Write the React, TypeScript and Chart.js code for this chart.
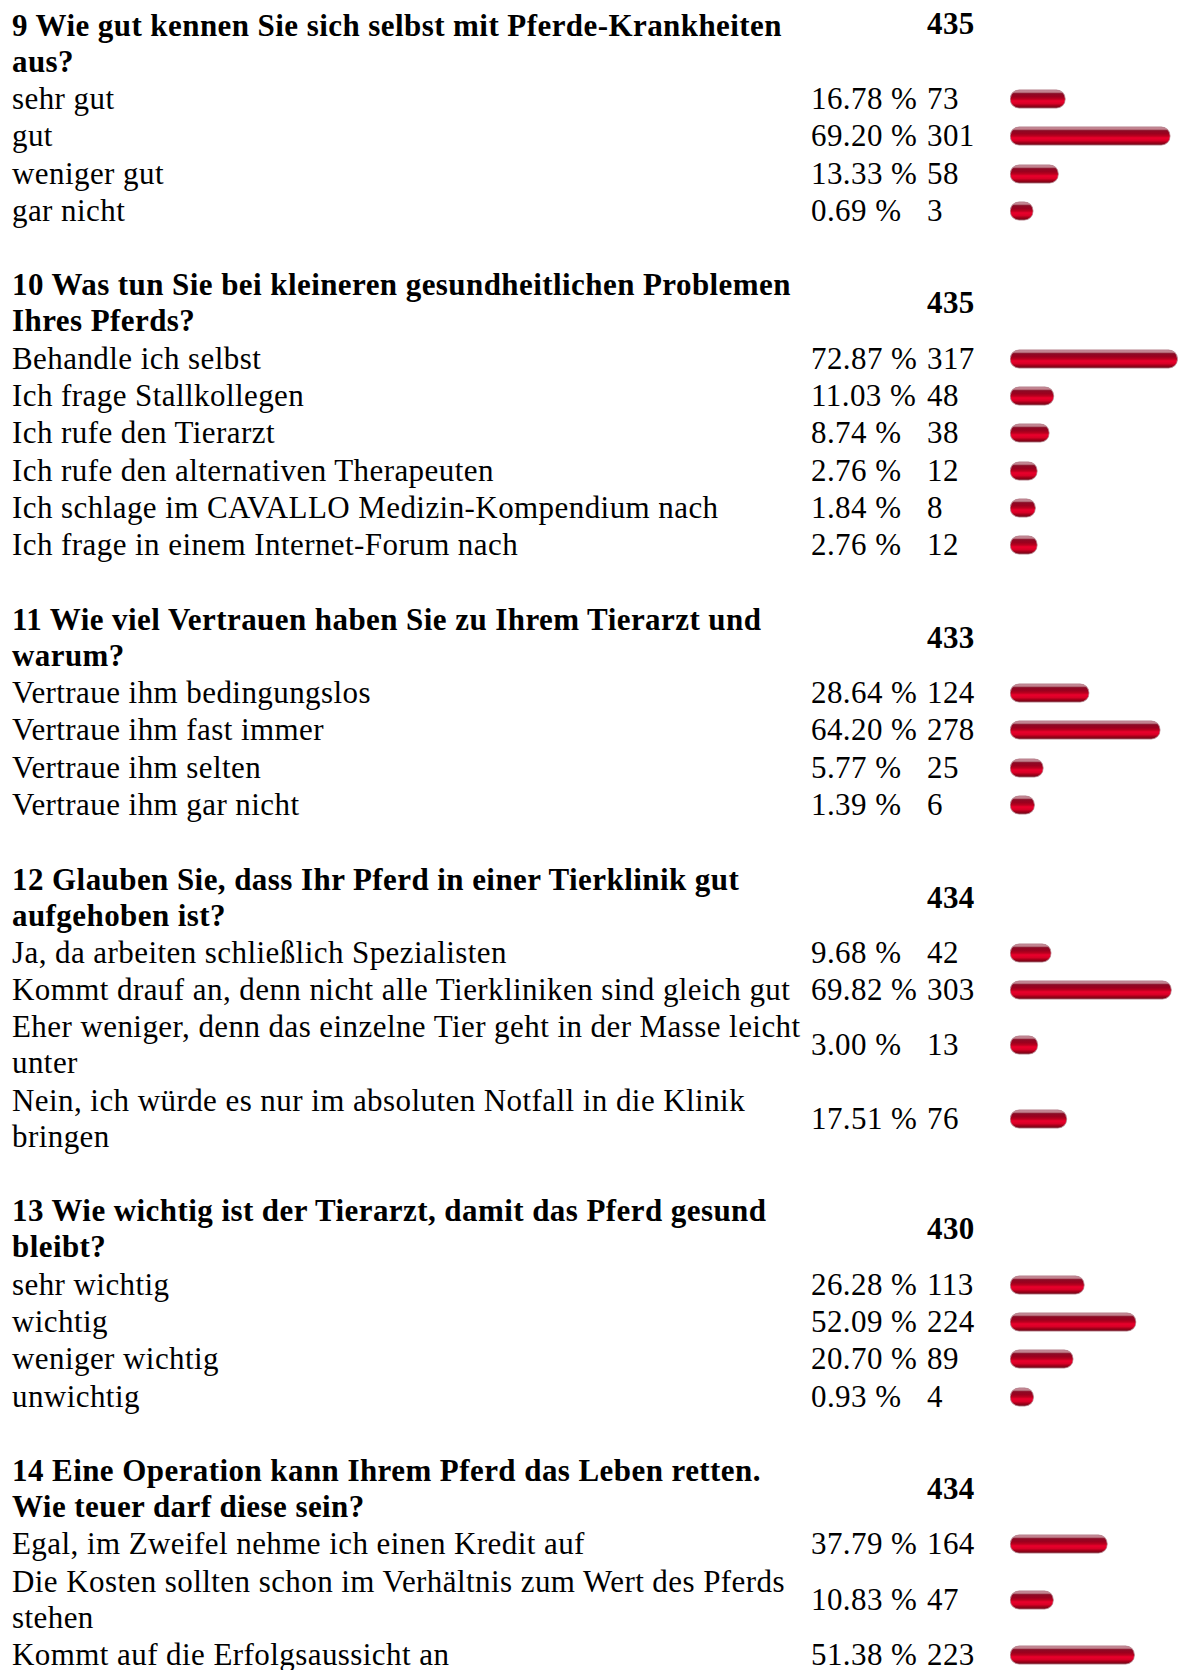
import React, { useEffect, useRef } from "react";
import { Chart, registerables } from "chart.js";

Chart.register(...registerables);

// ---------- data ----------
const q9Title = "9 Wie gut kennen Sie sich selbst mit Pferde-Krankheiten\naus?";
const q9Total = 435;
const q9Labels = ["sehr gut", "gut", "weniger gut", "gar nicht"];
const q9Percents = [16.78, 69.2, 13.33, 0.69];
const q9Counts = [73, 301, 58, 3];

const q10Title = "10 Was tun Sie bei kleineren gesundheitlichen Problemen\nIhres Pferds?";
const q10Total = 435;
const q10Labels = [
  "Behandle ich selbst",
  "Ich frage Stallkollegen",
  "Ich rufe den Tierarzt",
  "Ich rufe den alternativen Therapeuten",
  "Ich schlage im CAVALLO Medizin-Kompendium nach",
  "Ich frage in einem Internet-Forum nach",
];
const q10Percents = [72.87, 11.03, 8.74, 2.76, 1.84, 2.76];
const q10Counts = [317, 48, 38, 12, 8, 12];

const q11Title = "11 Wie viel Vertrauen haben Sie zu Ihrem Tierarzt und\nwarum?";
const q11Total = 433;
const q11Labels = [
  "Vertraue ihm bedingungslos",
  "Vertraue ihm fast immer",
  "Vertraue ihm selten",
  "Vertraue ihm gar nicht",
];
const q11Percents = [28.64, 64.2, 5.77, 1.39];
const q11Counts = [124, 278, 25, 6];

const q12Title = "12 Glauben Sie, dass Ihr Pferd in einer Tierklinik gut\naufgehoben ist?";
const q12Total = 434;
const q12Labels = [
  "Ja, da arbeiten schließlich Spezialisten",
  "Kommt drauf an, denn nicht alle Tierkliniken sind gleich gut",
  "Eher weniger, denn das einzelne Tier geht in der Masse leicht\nunter",
  "Nein, ich würde es nur im absoluten Notfall in die Klinik\nbringen",
];
const q12Percents = [9.68, 69.82, 3.0, 17.51];
const q12Counts = [42, 303, 13, 76];

const q13Title = "13 Wie wichtig ist der Tierarzt, damit das Pferd gesund\nbleibt?";
const q13Total = 430;
const q13Labels = ["sehr wichtig", "wichtig", "weniger wichtig", "unwichtig"];
const q13Percents = [26.28, 52.09, 20.7, 0.93];
const q13Counts = [113, 224, 89, 4];

const q14Title = "14 Eine Operation kann Ihrem Pferd das Leben retten.\nWie teuer darf diese sein?";
const q14Total = 434;
const q14Labels = [
  "Egal, im Zweifel nehme ich einen Kredit auf",
  "Die Kosten sollten schon im Verhältnis zum Wert des Pferds\nstehen",
  "Kommt auf die Erfolgsaussicht an",
];
const q14Percents = [37.79, 10.83, 51.38];
const q14Counts = [164, 47, 223];

const questions = [
  { title: q9Title, total: q9Total, labels: q9Labels, percents: q9Percents, counts: q9Counts, totalTop: true },
  { title: q10Title, total: q10Total, labels: q10Labels, percents: q10Percents, counts: q10Counts },
  { title: q11Title, total: q11Total, labels: q11Labels, percents: q11Percents, counts: q11Counts },
  { title: q12Title, total: q12Total, labels: q12Labels, percents: q12Percents, counts: q12Counts },
  { title: q13Title, total: q13Total, labels: q13Labels, percents: q13Percents, counts: q13Counts },
  { title: q14Title, total: q14Total, labels: q14Labels, percents: q14Percents, counts: q14Counts },
];

// ---------- layout ----------
const FONT = "'Liberation Serif', 'Times New Roman', Times, serif";
const FONT_SIZE = 31;
const LETTER = "0.43px";
const LINE = 36;
const PAD = 0.65;
const LABEL_X = 12;
const PCT_X = 811;
const CNT_X = 927;
const BAR_X = 1010;
const CANVAS_W = 168;
const CANVAS_H = 26;
const BAR_T = 19;
const AXIS_MIN = -11;
const AXIS_MAX = 73;

const rowHeight = (text: string) => text.split("\n").length * LINE + 2 * PAD;

function pillGradient(ctx: any) {
  const chart = ctx.chart;
  const a = chart.chartArea;
  if (!a) return "#c00020";
  const cy = (a.top + a.bottom) / 2;
  const g = chart.ctx.createLinearGradient(0, cy - BAR_T / 2, 0, cy + BAR_T / 2);
  g.addColorStop(0.0, "#9a4a5c");
  g.addColorStop(0.08, "#c98e9b");
  g.addColorStop(0.15, "#b87480");
  g.addColorStop(0.22, "#8a0a24");
  g.addColorStop(0.38, "#9c001e");
  g.addColorStop(0.5, "#bb001e");
  g.addColorStop(0.6, "#ea002c");
  g.addColorStop(0.74, "#d80026");
  g.addColorStop(0.86, "#9a0018");
  g.addColorStop(1.0, "#5e0a18");
  return g;
}

function PillBar({ value }: { value: number }) {
  const ref = useRef<HTMLCanvasElement | null>(null);
  useEffect(() => {
    if (!ref.current) return;
    const chart = new Chart(ref.current, {
      type: "bar",
      data: {
        labels: [""],
        datasets: [
          {
            data: [value],
            base: AXIS_MIN,
            backgroundColor: pillGradient,
            borderWidth: 1,
            borderColor: "rgba(110,10,30,0.45)",
            borderRadius: BAR_T / 2,
            borderSkipped: false,
            barThickness: BAR_T,
          } as any,
        ],
      },
      options: {
        indexAxis: "y",
        responsive: false,
        animation: false,
        events: [],
        layout: { padding: 0 },
        plugins: { legend: { display: false }, tooltip: { enabled: false } },
        scales: {
          x: { type: "linear", min: AXIS_MIN, max: AXIS_MAX, display: false },
          y: { display: false },
        },
      },
    });
    return () => chart.destroy();
  }, [value]);
  return <canvas ref={ref} width={CANVAS_W} height={CANVAS_H} style={{ display: "block" }} />;
}

function Row({ label, percent, count }: { label: string; percent: number; count: number }) {
  const h = rowHeight(label);
  const center: React.CSSProperties = {
    position: "absolute",
    top: 0,
    height: h,
    display: "flex",
    alignItems: "center",
    whiteSpace: "pre",
    lineHeight: LINE + "px",
  };
  return (
    <div style={{ position: "relative", height: h }}>
      <div style={{ position: "absolute", left: LABEL_X, top: PAD, whiteSpace: "pre", lineHeight: LINE + "px" }}>{label}</div>
      <div style={{ ...center, left: PCT_X }}>{percent.toFixed(2) + " %"}</div>
      <div style={{ ...center, left: CNT_X }}>{String(count)}</div>
      <div style={{ ...center, left: BAR_X }}>
        <PillBar value={percent} />
      </div>
    </div>
  );
}

function Header({ title, total, top }: { title: string; total: number; top?: boolean }) {
  const h = rowHeight(title);
  return (
    <div style={{ position: "relative", height: h, fontWeight: "bold" }}>
      <div style={{ position: "absolute", left: LABEL_X, top: PAD, whiteSpace: "pre", lineHeight: LINE + "px" }}>{title}</div>
      <div
        style={{
          position: "absolute",
          left: CNT_X,
          top: top ? PAD - 2 : 0,
          height: top ? LINE : h,
          display: "flex",
          alignItems: "center",
          lineHeight: LINE + "px",
        }}
      >
        {String(total)}
      </div>
    </div>
  );
}

export default function App() {
  return (
    <div
      style={{
        position: "absolute",
        left: 0,
        top: 7,
        width: 1178,
        fontFamily: FONT,
        fontSize: FONT_SIZE,
        letterSpacing: LETTER,
        color: "#000",
        background: "#fff",
      }}
    >
      {questions.map((q, qi) => (
        <div key={qi}>
          {qi > 0 && <div style={{ height: LINE + 2 * PAD }} />}
          <Header title={q.title} total={q.total} top={(q as any).totalTop} />
          {q.labels.map((l, i) => (
            <Row key={i} label={l} percent={q.percents[i]} count={q.counts[i]} />
          ))}
        </div>
      ))}
    </div>
  );
}
